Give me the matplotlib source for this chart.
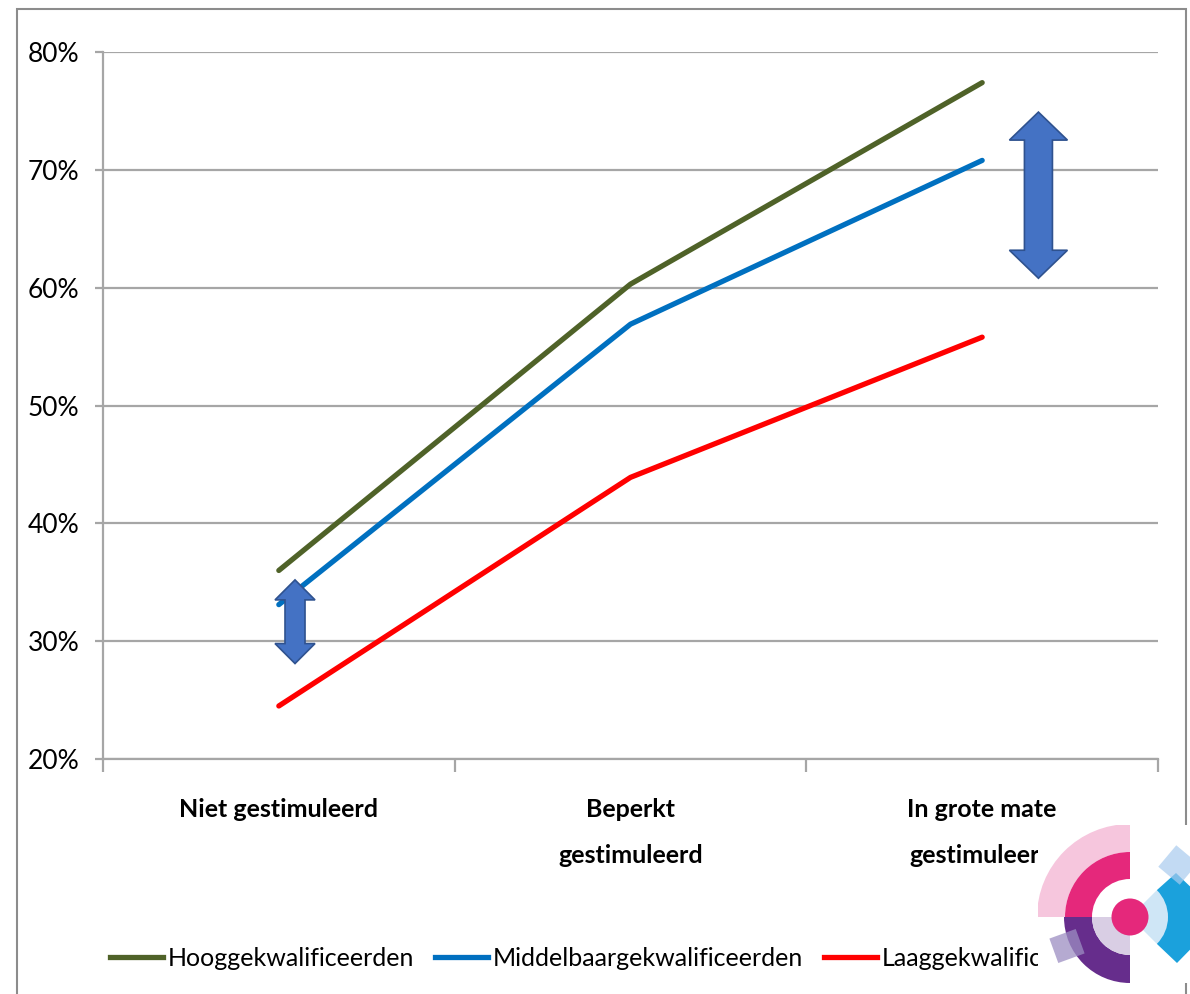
import matplotlib
matplotlib.use("Agg")
import matplotlib.pyplot as plt
from matplotlib.patches import Polygon, Rectangle, Wedge, Circle
from matplotlib.lines import Line2D
import matplotlib.transforms as mtrans
import numpy as np

# data
categories = ["Niet gestimuleerd", "Beperkt\ngestimuleerd", "In grote mate\ngestimuleerd"]
hoog = [36.0, 60.3, 77.4]
middel = [33.1, 56.9, 70.8]
laag = [24.5, 43.9, 55.8]
series_names = ["Hooggekwalificeerden", "Middelbaargekwalificeerden", "Laaggekwalificeerden"]
series_colors = ["#4F6228", "#0070C0", "#FF0000"]
yticks = [20, 30, 40, 50, 60, 70, 80]

W, H = 1190, 994
plt.rcParams["font.family"] = ["Lato", "DejaVu Sans"]

fig = plt.figure(figsize=(W / 100, H / 100), dpi=100)

# outer frame
fig.patches.append(Rectangle((17 / W, -0.01), (1186 - 17) / W, (H - 9) / H + 0.01,
                             transform=fig.transFigure, fill=False,
                             edgecolor="#8C8C8C", linewidth=1.5, zorder=0))

ax = fig.add_axes([103 / W, (H - 759) / H, (1158 - 103) / W, (759 - 52) / H])
x = np.arange(len(categories))
for vals, name, col in zip([hoog, middel, laag], series_names, series_colors):
    ax.plot(x, vals, color=col, linewidth=3.8, label=name, solid_capstyle="round", zorder=3)

ax.set_xlim(-0.5, 2.5)
ax.set_ylim(20, 80)
ax.set_yticks(yticks)
ax.set_yticklabels([f"{v}%" for v in yticks])
ax.yaxis.grid(True, color="#A6A6A6", linewidth=1.6)
ax.set_axisbelow(True)
for s in ["top", "right"]:
    ax.spines[s].set_visible(False)
for s in ["left", "bottom"]:
    ax.spines[s].set_color("#A6A6A6")
    ax.spines[s].set_linewidth(1.6)
ax.tick_params(axis="y", length=6, width=1.6, color="#A6A6A6", labelsize=19, pad=11)

ax.set_xticks(x)
ax.set_xticklabels(categories, fontweight="bold", fontsize=18, linespacing=2.2)
ax.tick_params(axis="x", which="major", length=0, pad=28)
ax.set_xticks([-0.5, 0.5, 1.5, 2.5], minor=True)
ax.tick_params(axis="x", which="minor", length=9, width=1.6, color="#A6A6A6")
for lab in ax.get_xticklabels():
    lab.set_verticalalignment("top")


# double-headed block arrows (annotation shapes)
def double_arrow(ax, xc, y0, y1, shaft_px, head_px, headlen_px):
    dxp = 3 / 1055.0
    dyp = 60 / 707.0
    s = shaft_px / 2 * dxp
    h = head_px / 2 * dxp
    hl = headlen_px * dyp
    pts = [(xc, y1), (xc + h, y1 - hl), (xc + s, y1 - hl), (xc + s, y0 + hl),
           (xc + h, y0 + hl), (xc, y0), (xc - h, y0 + hl), (xc - s, y0 + hl),
           (xc - s, y1 - hl), (xc - h, y1 - hl)]
    ax.add_patch(Polygon(pts, closed=True, facecolor="#4472C4", edgecolor="#2F528F",
                         linewidth=1.2, zorder=4, clip_on=False))


double_arrow(ax, 0.046, 28.1, 35.2, 20, 40, 20)
double_arrow(ax, 2.16, 60.8, 74.9, 28, 58, 28)

handles = [Line2D([], [], color=c, linewidth=3.8) for c in series_colors]
fig.legend(handles, series_names, loc="center left", bbox_to_anchor=(110 / W, (H - 958) / H),
           ncol=3, frameon=False, fontsize=18, handlelength=2.1, handletextpad=0.2,
           columnspacing=0.85, borderpad=0, borderaxespad=0)

# logo in the lower right corner (pixel coordinates)
lx0, lx1, ly0, ly1 = 1038, 1190, 825, 983
lg = fig.add_axes([lx0 / W, (H - ly1) / H, (lx1 - lx0) / W, (ly1 - ly0) / H], zorder=10)
lg.set_xlim(lx0, lx1)
lg.set_ylim(ly1, ly0)
lg.set_facecolor("white")
lg.axis("off")
lg.add_patch(Rectangle((lx0, ly0), lx1 - lx0, ly1 - ly0, facecolor="white", edgecolor="none"))
cx, cy = 1130, 917
# y axis inverted: angles mirror, so upper-left is 180..270 in data terms
lg.add_patch(Wedge((cx, cy), 93, 180, 270, width=28, facecolor="#F6C6DD", edgecolor="none"))
lg.add_patch(Wedge((cx, cy), 65, 180, 270, width=27, facecolor="#E5287B", edgecolor="none"))
lg.add_patch(Wedge((cx, cy), 66, 90, 180, width=28, facecolor="#662D8C", edgecolor="none"))
lg.add_patch(Wedge((cx, cy), 38, 90, 180, facecolor="#D9CEE4", edgecolor="none"))
lg.add_patch(Polygon([(cx + 27, cy - 27), (cx + 46, cy - 44), (cx + 92, cy),
                      (cx + 47, cy + 46), (cx + 27, cy + 27)],
                     facecolor="#1BA1DC", edgecolor="none"))
lg.add_patch(Wedge((cx, cy), 38, -45, 45, facecolor="#CFE6F6", edgecolor="none"))
lg.add_patch(Circle((cx, cy), 18.5, facecolor="#E5287B", edgecolor="none"))
sq1 = Rectangle((1053, 933), 28, 26, facecolor="#9C8EC2", alpha=0.75, edgecolor="none")
sq1.set_transform(mtrans.Affine2D().rotate_deg_around(1067, 946, -20) + lg.transData)
lg.add_patch(sq1)
sq2 = Rectangle((1164, 851), 28, 28, facecolor="#A9CBEE", alpha=0.7, edgecolor="none")
sq2.set_transform(mtrans.Affine2D().rotate_deg_around(1178, 865, 40) + lg.transData)
lg.add_patch(sq2)

fig.savefig("out.png", dpi=100)
